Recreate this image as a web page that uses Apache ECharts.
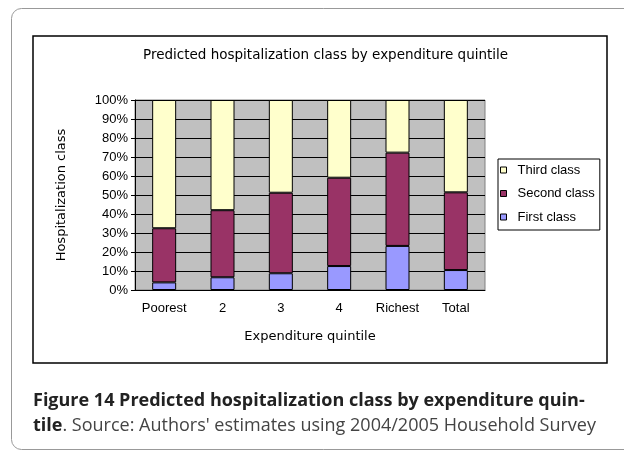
<!DOCTYPE html>
<html>
<head>
<meta charset="utf-8">
<script src="https://cdn.jsdelivr.net/npm/echarts@6/dist/echarts.min.js"></script>
<style>
  html, body { margin: 0; padding: 0; background: #fff; }
  #chart { width: 624px; height: 452px; }
</style>
</head>
<body>
<div id="chart"></div>
<script>
const categories = ['Poorest', '2', '3', '4', 'Richest', 'Total'];
const firstClass = [4, 6.7, 8.8, 12.6, 23.2, 10.5];
const secondClass = [28.5, 35.3, 42.4, 46.5, 49.1, 40.9];
const thirdClass = [67.5, 58, 48.8, 40.9, 27.7, 48.6];

const chart = echarts.init(document.getElementById('chart'));

const barSeries = (name, data, color) => ({
  name: name,
  type: 'bar',
  stack: 'total',
  barWidth: 24,
  data: data,
  itemStyle: { color: color, borderColor: '#000', borderWidth: 1 }
});

// wider font for the spaced-out Excel titles
const spaced = 'DejaVu Sans, Liberation Sans, sans-serif';

const option = {
  animation: false,
  textStyle: { fontFamily: 'Liberation Sans, Arial, sans-serif' },
  title: {
    text: 'Predicted hospitalization class by expenditure quintile',
    left: 138,
    top: 43,
    textStyle: { fontSize: 13.5, fontWeight: 'normal', color: '#000', fontFamily: spaced }
  },
  legend: {
    data: ['Third class', 'Second class', 'First class'],
    orient: 'vertical',
    left: 498,
    top: 159,
    itemWidth: 6,
    itemHeight: 6,
    itemGap: 9.5,
    padding: [4, 5, 6, 2],
    borderColor: '#000',
    borderWidth: 1,
    icon: 'rect',
    itemStyle: { borderColor: '#000', borderWidth: 1 },
    textStyle: { fontSize: 13, color: '#000', lineHeight: 14, padding: [0, 0, 0, 6] }
  },
  grid: {
    left: 135,
    right: 139,
    top: 100,
    bottom: 162,
    show: true,
    backgroundColor: '#c0c0c0',
    borderColor: '#808080',
    borderWidth: 1
  },
  xAxis: {
    type: 'category',
    data: categories,
    name: 'Expenditure quintile',
    nameLocation: 'middle',
    nameGap: 40,
    nameTextStyle: { fontSize: 13, color: '#000', fontFamily: spaced },
    axisLine: { lineStyle: { color: '#000' } },
    axisTick: { length: 4, lineStyle: { color: '#000' } },
    axisLabel: { fontSize: 13, color: '#000', margin: 12, interval: 0 }
  },
  yAxis: {
    type: 'value',
    min: 0,
    max: 100,
    interval: 10,
    name: 'Hospitalization class',
    nameLocation: 'middle',
    nameGap: 67,
    nameTextStyle: { fontSize: 13, color: '#000', fontFamily: spaced },
    axisLine: { show: true, lineStyle: { color: '#000' } },
    axisTick: { show: true, length: 4, lineStyle: { color: '#000' } },
    axisLabel: { fontSize: 13, color: '#000', margin: 7, formatter: '{value}%' },
    splitLine: { lineStyle: { color: '#000', width: 1 } }
  },
  series: [
    barSeries('First class', firstClass, '#9999ff'),
    barSeries('Second class', secondClass, '#993366'),
    barSeries('Third class', thirdClass, '#ffffcc')
  ],
  graphic: [
    {
      type: 'rect',
      shape: { x: 11.5, y: 8.5, width: 700, height: 441, r: 10 },
      style: { fill: 'none', stroke: '#999', lineWidth: 1 },
      silent: true
    },
    {
      type: 'rect',
      shape: { x: 33, y: 36, width: 574, height: 327 },
      style: { fill: 'none', stroke: '#000', lineWidth: 1.5 },
      silent: true
    },
    {
      type: 'text',
      left: 33,
      top: 392,
      style: {
        text: '{b|Figure 14 Predicted hospitalization class by expenditure quin-}\n{b|tile}{r|. Source: Authors\' estimates using 2004/2005 Household Survey}',
        rich: {
          b: { fontFamily: 'Open Sans', fontWeight: 'bold', fontSize: 18, lineHeight: 25, fill: '#222' },
          r: { fontFamily: 'Open Sans', fontWeight: 'normal', fontSize: 18, lineHeight: 25, fill: '#444' }
        }
      }
    }
  ]
};

chart.setOption(option);
</script>
</body>
</html>
